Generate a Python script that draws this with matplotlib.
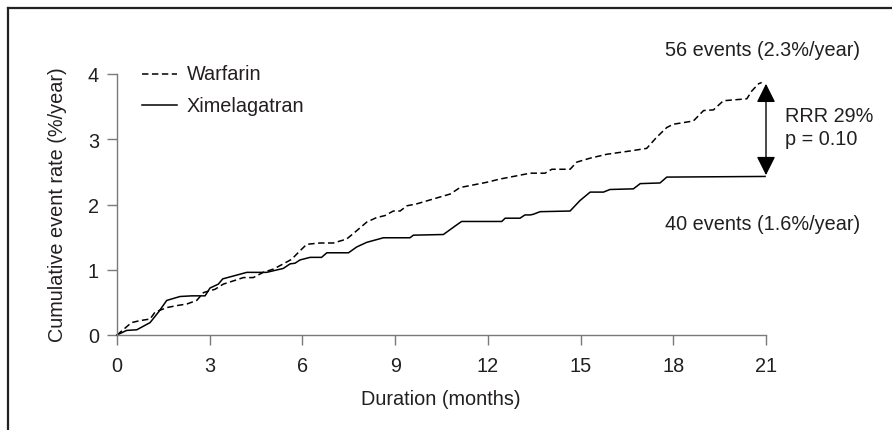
import matplotlib
matplotlib.use("Agg")
import matplotlib.pyplot as plt
from matplotlib.lines import Line2D

# ---- data ----
warf_x = [0, 0.47, 0.74, 1.07, 1.23, 1.61, 1.93, 2.26, 2.58, 2.80, 3.01, 3.17, 3.44, 3.77,
          4.09, 4.41, 4.73, 5.06, 5.38, 5.65, 5.92, 6.14, 6.57, 7.0, 7.43, 7.76, 8.08, 8.40,
          8.67, 8.94, 9.16, 9.38, 9.70, 10.13, 10.56, 10.78, 11.1, 11.53, 11.96, 12.39,
          12.94, 13.37, 13.85, 14.07, 14.66, 14.88, 15.31, 15.85, 16.6, 17.14, 17.46, 17.79,
          18.0, 18.65, 18.98, 19.3, 19.62, 20.38, 20.54, 20.76, 20.86]
warf_y = [0, 0.19, 0.22, 0.245, 0.35, 0.42, 0.45, 0.475, 0.53, 0.65, 0.68, 0.70, 0.78, 0.83,
          0.88, 0.88, 0.96, 1.01, 1.09, 1.16, 1.29, 1.39, 1.41, 1.41, 1.47, 1.60, 1.73, 1.80,
          1.83, 1.90, 1.90, 1.98, 2.01, 2.07, 2.13, 2.16, 2.26, 2.30, 2.34, 2.39,
          2.44, 2.48, 2.48, 2.54, 2.54, 2.65, 2.71, 2.77, 2.82, 2.86, 3.03, 3.18,
          3.23, 3.28, 3.44, 3.45, 3.59, 3.62, 3.74, 3.85, 3.87]

xime_x = [0, 0.31, 0.64, 1.07, 1.34, 1.61, 2.04, 2.42, 2.85, 3.01, 3.28, 3.42, 4.20, 4.84,
          5.38, 5.60, 5.76, 5.92, 6.25, 6.62, 6.79, 7.49, 7.76, 8.08, 8.62, 9.48, 9.59,
          10.56, 10.94, 11.15, 12.45, 12.56, 13.04, 13.2, 13.37, 13.47, 13.69, 14.66,
          14.98, 15.31, 15.74, 15.95, 16.71, 16.93, 17.57, 17.79, 20.97]
xime_y = [0, 0.07, 0.08, 0.19, 0.35, 0.53, 0.59, 0.60, 0.60, 0.72, 0.78, 0.86, 0.96, 0.96,
          1.02, 1.09, 1.10, 1.15, 1.19, 1.19, 1.26, 1.26, 1.35, 1.42, 1.49, 1.49, 1.53,
          1.54, 1.67, 1.74, 1.74, 1.79, 1.79, 1.84, 1.84, 1.85, 1.89, 1.90,
          2.06, 2.19, 2.19, 2.23, 2.24, 2.32, 2.33, 2.42, 2.43]

x_ticks = [0, 3, 6, 9, 12, 15, 18, 21]
y_ticks = [0, 1, 2, 3, 4]
series_names = ["Warfarin", "Ximelagatran"]
arrow_top, arrow_bottom = 3.85, 2.45

TXT = "#231f20"
FS = 14.3
plt.rcParams['font.family'] = ['Liberation Sans', 'DejaVu Sans']
plt.rcParams['font.size'] = FS

W, H = 892, 431
fig = plt.figure(figsize=(W / 100, H / 100), dpi=100)

def fx(px):
    return px / W

def fy(py):
    return 1 - py / H

ax = fig.add_axes([fx(117), fy(336), fx(766) - fx(117), fy(75) - fy(336)])
ax.set_xlim(0, 21)
ax.set_ylim(0, 4)

LW = 1.1
ax.plot(warf_x, warf_y, color="black", lw=LW, linestyle=(0, (4.2, 2.3)), clip_on=False)
ax.plot(xime_x, xime_y, color="black", lw=LW, clip_on=False)

for s in ["top", "right"]:
    ax.spines[s].set_visible(False)
for s in ["left", "bottom"]:
    ax.spines[s].set_color("#7a7a7a")
    ax.spines[s].set_linewidth(1.0)

ax.set_xticks(x_ticks)
ax.set_yticks(y_ticks)
ax.tick_params(axis="both", direction="out", length=7, width=1.0, color="#7a7a7a",
               labelsize=FS, labelcolor=TXT)
ax.tick_params(axis="x", pad=8)
ax.tick_params(axis="y", pad=6)

# axis labels
fig.text(fx(441), fy(400), "Duration (months)", ha="center", va="center", color=TXT, fontsize=FS)
fig.text(fx(58), fy(205), "Cumulative event rate (%/year)", rotation=90,
         ha="center", va="center", color=TXT, fontsize=FS)

# legend (manual)
fig.add_artist(Line2D([fx(142), fx(177)], [fy(75), fy(75)], color="black", lw=LW,
                      linestyle=(0, (4.2, 2.3))))
fig.add_artist(Line2D([fx(142), fx(177)], [fy(106), fy(106)], color="black", lw=LW))
fig.text(fx(187), fy(75), series_names[0], ha="left", va="center", color=TXT, fontsize=FS)
fig.text(fx(187), fy(106), series_names[1], ha="left", va="center", color=TXT, fontsize=FS)

# arrow
ax.annotate("", xy=(21, arrow_top), xytext=(21, arrow_bottom),
            arrowprops=dict(arrowstyle="<|-|>,head_length=0.72,head_width=0.36",
                            mutation_scale=16, color="black", lw=1.0,
                            shrinkA=0, shrinkB=0),
            annotation_clip=False)

fig.text(fx(860), fy(50), "56 events (2.3%/year)", ha="right", va="center", color=TXT, fontsize=FS)
fig.text(fx(860), fy(225), "40 events (1.6%/year)", ha="right", va="center", color=TXT, fontsize=FS)
fig.text(fx(785), fy(117), "RRR 29%", ha="left", va="center", color=TXT, fontsize=FS)
fig.text(fx(785), fy(140), "p = 0.10", ha="left", va="center", color=TXT, fontsize=FS)

# frame lines (top and left)
fig.add_artist(Line2D([fx(8), 1.0], [fy(9), fy(9)], color="#222222", lw=1.6))
fig.add_artist(Line2D([fx(8), fx(8)], [fy(9), 0.0], color="#222222", lw=1.6))

fig.savefig("out.png", dpi=100)
